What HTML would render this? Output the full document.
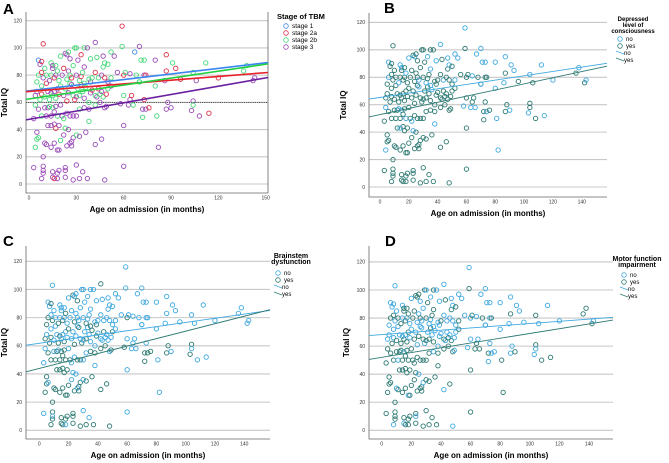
<!DOCTYPE html>
<html><head><meta charset="utf-8"><style>
html,body{margin:0;padding:0;background:#fff}
svg{display:block;font-family:"Liberation Sans",Arial,sans-serif}
</style></head><body>
<svg id="fig" width="669" height="463" viewBox="0 0 669 463">
<g font-weight="bold" font-size="15" fill="#000">
<text x="3" y="14">A</text>
<text x="384" y="13">B</text>
<text x="3" y="246">C</text>
<text x="385" y="246">D</text>
</g>
<g font-size="6.5">
<text x="277" y="19" font-weight="bold" font-size="7.5">Stage of TBM</text>
<circle cx="286" cy="26" r="2.3" fill="none" stroke="#3d8ae0" stroke-width="0.8"/><text x="292" y="28.2">stage 1</text>
<circle cx="286" cy="33" r="2.3" fill="none" stroke="#e0304a" stroke-width="0.8"/><text x="292" y="35.2">stage 2a</text>
<circle cx="286" cy="40" r="2.3" fill="none" stroke="#45d878" stroke-width="0.8"/><text x="292" y="42.2">stage 2b</text>
<circle cx="286" cy="47" r="2.3" fill="none" stroke="#9a4ab8" stroke-width="0.8"/><text x="292" y="49.2">stage 3</text>
</g>
</svg>
<script>
// shared data: age (months), IQ, and group codes [stage(1-4), depressed LOC(0/1), brainstem(0/1), motor(0/1)]
const ages=[3,8,9,9,9,15,15,16,18,18,19,23,23,23,28,30,32,34,37,48,60,
4,5,6,5,9,10,11,14,16,18,19,20,22,23,24,25,26,27,27,28,30,32,36,38,42,46,60,82,3,12,16,17,
6,8,10,11,12,13,14,15,16,17,18,20,21,22,24,26,28,30,32,35,38,42,45,48,49,58,63,72,72,74,76,81,87,90,103,108,114,4,19,14,
4,5,7,8,10,12,13,14,15,16,17,18,19,20,22,23,24,25,26,28,29,30,31,32,33,34,35,36,38,39,40,42,43,44,45,46,47,49,50,52,60,64,65,66,70,73,104,104,88,8,11,35,27,
5,6,7,8,9,10,11,13,14,15,16,17,18,19,21,22,24,25,26,27,28,30,32,33,34,35,38,39,40,42,44,46,47,48,50,52,56,60,61,64,68,70,73,74,80,86,96,104,106,120,136,138,142,143,112,87,
6,8,9,14,15,17,23,24,25,26,29,30,31,35,37,39,42,43,47,48,50,52,54,59,67,70,71,73,80,87,91,93,59,33,20];
const iqs=[12,4,13,10,8,9,5,4,4,8,10,12,10,5,3,14,4,9,4,3,13,
27,33,34,38,20,30,29,27,30,25,25,32,36,41,28,40,30,31,28,34,36,35,38,46,29,33,43,27,48,43,44,41,
55,50,56,50,56,57,50,56,53,57,50,58,50,48,52,50,50,50,55,56,55,58,60,56,57,59,58,49,55,55,56,50,55,56,54,50,52,58,43,43,
65,68,62,66,64,68,62,67,65,68,63,70,66,72,65,70,61,67,74,65,62,64,70,65,73,68,63,71,60,67,69,65,64,70,66,68,64,66,70,72,65,62,65,58,75,62,61,58,60,72,74,74,73,
75,80,88,82,78,85,80,76,80,85,78,80,83,76,80,85,77,83,80,78,87,80,76,79,82,86,77,75,78,82,78,80,86,78,75,78,82,80,82,81,80,75,80,80,72,76,77,82,76,78,83,87,76,78,89,83,
91,90,103,89,87,87,96,95,97,92,100,100,91,100,100,92,104,93,94,89,88,97,94,101,97,101,91,91,91,95,89,85,116,95,94];
const groups=["4101","4110","4111","4101","4111","4111","4110","2111","4101","4111","4111","4111","4110","4111","4111","4101","4111","4101","4111","4110","4101",
"3011","3111","3101","4111","4111","4110","4111","4111","4111","4110","4111","3111","4101","3001","4111","4100","4101","4111","4111","4110","3101","4111","4111","3001","4110","4111","4101","4001","4101","4111","4111","2111",
"4111","3111","4101","4110","4111","3001","4111","3010","4111","4111","3011","4101","4111","3001","4101","4111","4111","4101","3101","4110","4111","3111","4111","4101","4110","4010","4001","3110","4111","4010","2110","3001","4110","4001","4010","4101","2001","3001","4111","4011","4110",
"4100","3111","2110","3101","4100","3111","4110","3101","4100","3111","4101","2100","3110","4101","3100","2110","4101","3100","3101","2110","4101","3100","3111","2101","3100","4101","3010","3100","4110","2100","3101","4100","2110","3101","4100","3101","2100","3110","4101","3100","4101","2100","3001","3100","2100","4111","3100","4110","3100","2100","3010","4010","3110","3011","4100","2101","4110",
"3100","3101","4011","3100","4101","2111","4100","3011","3100","4101","2101","3110","4100","3101","2000","3100","4101","3010","2100","3101","4001","3100","4110","3101","2100","3000","4100","3101","2100","4100","3001","4100","2110","3101","4000","3101","3000","4100","2101","3000","4000","2100","3001","4100","2000","3101","3001","4101","4000","3000","2101","1000","2110","2100","3000","4001",
"3101","4111","4001","3101","4110","3101","3100","4101","3101","4100","3000","4010","3101","4000","3000","3101","3000","4000","3101","1000","4000","3000","3000","4000","2000","3000","2000","2000","2000","3000","2000","3101","3000","3101","3100"];
// regression lines [intercept, slope]
const linesA=[[68.5,0.137],[68,0.092],[62.5,0.17],[47.5,0.203]];
const linesB=[[65.3,0.158],[52.8,0.224]];
const linesC=[[61.8,0.148],[43.9,0.265]];
const linesD=[[68.2,0.079],[52,0.170]];
const yTicks=[0,20,40,60,80,100,120];
const xTicksA=[0,30,60,90,120,150];
const xTicksB=[0,20,40,60,80,100,120,140];

const NS="http://www.w3.org/2000/svg";
const svg=document.getElementById('fig');
function mk(tag,attrs,parent){const e=document.createElementNS(NS,tag);for(const k in attrs)e.setAttribute(k,attrs[k]);(parent||svg).appendChild(e);return e;}

const BLUE="#3ea8e0",TEAL="#2e7a73";
const STAGE=["#3d8ae0","#e0304a","#45d878","#9a4ab8"];
const STAGEL=["#3a85f0","#e8202a","#20d040","#6a1fa0"];

const panels=[
 {id:'a',x0:29,xs:1.578,y0:184,ys:1.361,r:[26,12,268,193],xt:xTicksA,lines:linesA,gi:0,right:true,ref:60},
 {id:'b',x0:380,xs:1.441,y0:187,ys:1.3717,r:[369,13,607,197],xt:xTicksB,lines:linesB,gi:1},
 {id:'c',x0:39.3,xs:1.464,y0:430.3,ys:1.4083,r:[26,246,270,439],xt:xTicksB,lines:linesC,gi:2},
 {id:'d',x0:381.7,xs:1.481,y0:430.3,ys:1.403,r:[369,246,613,439],xt:xTicksB,lines:linesD,gi:3}
];
panels.forEach(p=>{
 const X=v=>p.x0+v*p.xs, Y=v=>p.y0-v*p.ys;
 const [L,T,R,B]=p.r;
 const g=mk('g',{});
 
 
 yTicks.forEach(t=>{
  const gl=mk('line',{x1:L,x2:R,y1:Y(t),y2:Y(t),stroke:'#c8c8c8','stroke-width':1.1},g);
  
  
  const tl=mk('text',{x:L-4,y:Y(t)+1.8,'text-anchor':'end','font-size':5,fill:'#333'},g);
  tl.textContent=t;
  
  
 });
 p.xt.forEach(t=>{
  const tl=mk('text',{x:X(t),y:B+6.5,'text-anchor':'middle','font-size':5,fill:'#333'},g);
  tl.textContent=t;
  
  
 });
 if(p.ref!==undefined){
  const rl=mk('line',{x1:L,x2:R,y1:Y(p.ref),y2:Y(p.ref),stroke:'#222','stroke-width':0.8,'stroke-dasharray':'1.2,1'},g);
  
  
 }
 const ax=mk('path',{d:`M${L},${T}V${B}H${R}`+(p.right?`V${T}`:''),fill:'none',stroke:'#666','stroke-width':0.8},g);
 
 
 for(let i=0;i<ages.length;i++){
  const code=+groups[i][p.gi];
  const col=p.gi===0?STAGE[code-1]:(code?TEAL:BLUE);
  const c=mk('circle',{cx:X(ages[i]),cy:Y(iqs[i]),r:2.2,fill:'none',stroke:col,'stroke-width':0.9},g);
  
  
 }
 const vl=(L-p.x0)/p.xs, vr=(R-p.x0)/p.xs;
 p.lines.forEach((ln,k)=>{
  const col=p.gi===0?STAGEL[k]:(k?TEAL:BLUE);
  const l=mk('line',{x1:L,y1:Y(ln[0]+ln[1]*vl),x2:R,y2:Y(ln[0]+ln[1]*vr),stroke:col,'stroke-width':p.gi===0?1.6:0.9},g);
  
  
 });
 const xt=mk('text',{x:(L+R)/2,y:B+19,'text-anchor':'middle','font-size':8,'font-weight':'bold'},g);
 xt.textContent='Age on admission (in months)';
 
 
 const cy=(T+B)/2, tx=p.id==='a'||p.id==='c'?7:p.id==='b'?346:349;
 const yt=mk('text',{x:tx,y:cy,'text-anchor':'middle','font-size':8,'font-weight':'bold',transform:`rotate(-90 ${tx} ${cy})`},g);
 yt.textContent='Total IQ';
 
 
});

// binary legends
const legs=[{t:['Depressed','level of','consciousness'],cx:633,ty:21,ey:39,name:'legend-b'},
 {t:['Brainstem','dysfunction'],cx:291,ty:258,ey:273,name:'legend-c'},
 {t:['Motor function','impairment'],cx:637,ty:261,ey:275,name:'legend-d'}];
legs.forEach(lg=>{
 const g=mk('g',{'font-size':6});
 
 
 lg.t.forEach((s,i)=>{const e=mk('text',{x:lg.cx,y:lg.ty+i*6,'text-anchor':'middle','font-weight':'bold','font-size':lg.t.length>2?6:7},g);e.textContent=s;});
 const lx=lg.cx-13, y=lg.ey;
 mk('circle',{cx:lx,cy:y,r:2.3,fill:'none',stroke:BLUE,'stroke-width':0.8},g);
 mk('text',{x:lx+6,y:y+2},g).textContent='no';
 mk('circle',{cx:lx,cy:y+7,r:2.3,fill:'none',stroke:TEAL,'stroke-width':0.8},g);
 mk('text',{x:lx+6,y:y+9},g).textContent='yes';
 mk('line',{x1:lx-4,y1:y+12,x2:lx+4,y2:y+15,stroke:BLUE,'stroke-width':0.7},g);
 mk('text',{x:lx+4,y:y+16},g).textContent='no';
 mk('line',{x1:lx-4,y1:y+19,x2:lx+4,y2:y+22,stroke:TEAL,'stroke-width':0.7},g);
 mk('text',{x:lx+4,y:y+23},g).textContent='yes';
});
</script>
</body></html>
